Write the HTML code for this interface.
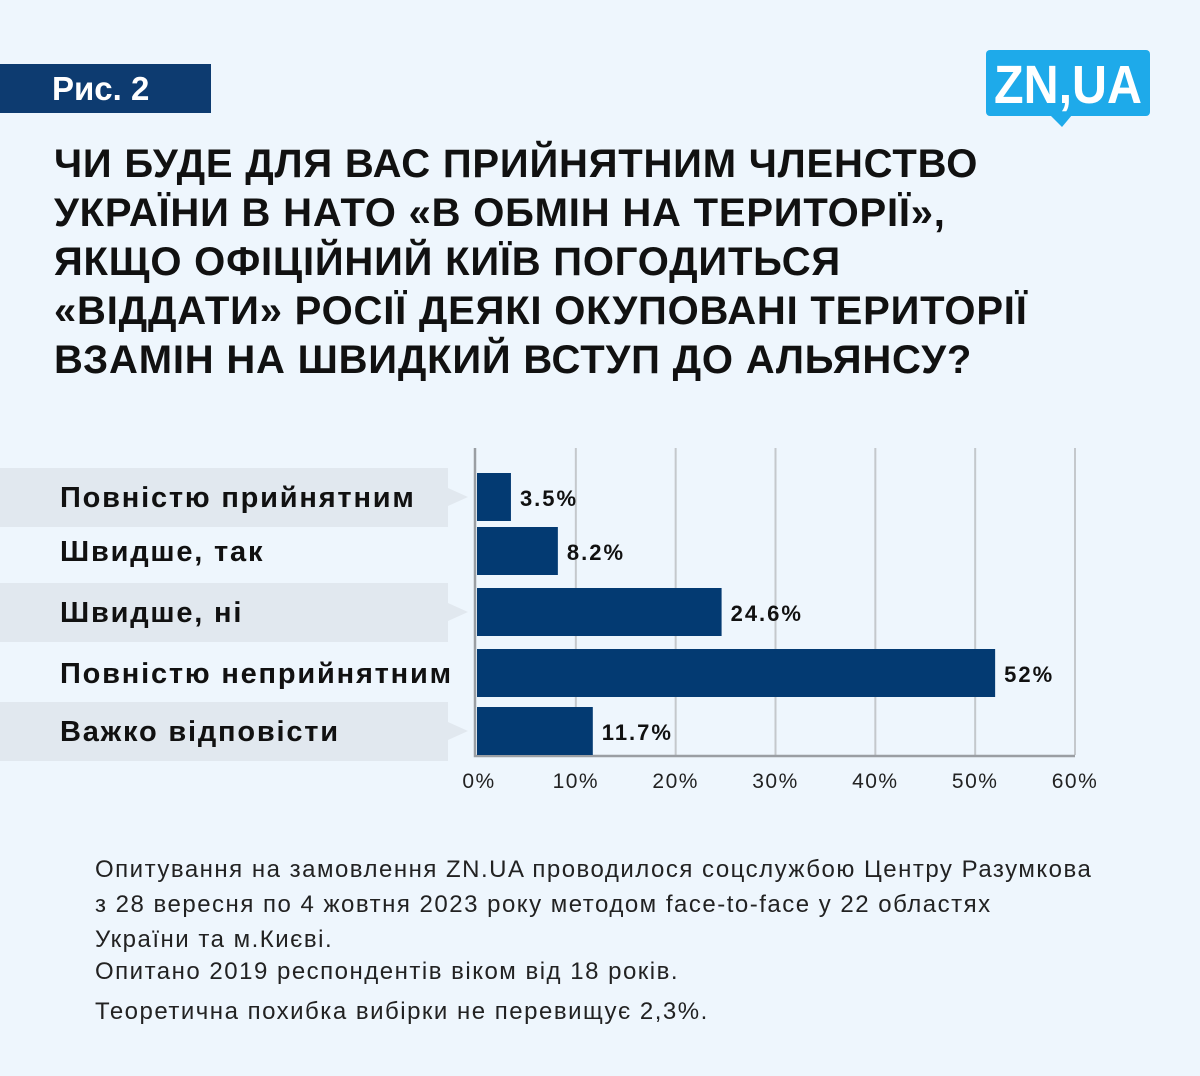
<!DOCTYPE html>
<html><head><meta charset="utf-8">
<style>
body{margin:0;width:1200px;height:1076px;background:#eef6fd;font-family:"Liberation Sans","DejaVu Sans",sans-serif;overflow:hidden;position:relative}
.fig{position:absolute;left:0;top:64px;width:211px;height:49px;background:#0d3b70;color:#fff;font-weight:bold;font-size:33px;line-height:49px;box-sizing:border-box;padding-left:52px}
.title{position:absolute;left:54px;top:140px;font-weight:bold;font-size:40px;line-height:49px;color:#111;letter-spacing:0.8px;white-space:nowrap}
.note{position:absolute;left:95px;font-size:24px;color:#222;letter-spacing:1.5px;white-space:nowrap}
</style></head><body>
<div class="fig">Рис. 2</div>
<svg style="position:absolute;left:980px;top:45px" width="180" height="90">
<rect x="6" y="5" width="164" height="66" rx="4" fill="#1eaaea"/>
<polygon points="70,70 92,70 82,82" fill="#1eaaea"/>
<text x="14" y="58" textLength="148" lengthAdjust="spacingAndGlyphs" font-family="Liberation Sans, sans-serif" font-weight="bold" font-size="54" fill="#fff">ZN,UA</text>
</svg>
<div class="title">ЧИ БУДЕ ДЛЯ ВАС ПРИЙНЯТНИМ ЧЛЕНСТВО<br>УКРАЇНИ В НАТО «В ОБМІН НА ТЕРИТОРІЇ»,<br>ЯКЩО ОФІЦІЙНИЙ КИЇВ ПОГОДИТЬСЯ<br>«ВІДДАТИ» РОСІЇ ДЕЯКІ ОКУПОВАНІ ТЕРИТОРІЇ<br>ВЗАМІН НА ШВИДКИЙ ВСТУП ДО АЛЬЯНСУ?</div>
<svg id="chart" style="position:absolute;left:0;top:0" width="1200" height="820"></svg>
<div class="note" style="top:852px;line-height:35px">Опитування на замовлення ZN.UA проводилося соцслужбою Центру Разумкова<br>з 28 вересня по 4 жовтня 2023 року методом face-to-face у 22 областях<br>України та м.Києві.</div>
<div class="note" style="top:958px">Опитано 2019 респондентів віком від 18 років.</div>
<div class="note" style="top:998px">Теоретична похибка вибірки не перевищує 2,3%.</div>
<script>
const categories=["Повністю прийнятним","Швидше, так","Швидше, ні","Повністю неприйнятним","Важко відповісти"];
const values=[3.5,8.2,24.6,52,11.7];
const valueLabels=["3.5%","8.2%","24.6%","52%","11.7%"];
const ticks=[0,10,20,30,40,50,60];
const tickLabels=["0%","10%","20%","30%","40%","50%","60%"];
const NS="http://www.w3.org/2000/svg";
const svg=document.getElementById('chart');
const x0=476,x1=1075,yTop=448,yBot=755,xMax=60;
const xs=v=>x0+(x1-x0)*v/xMax;
const rowTops=[473,527,588,649,707];
const barH=48;
function mk(t,a){const e=document.createElementNS(NS,t);for(const k in a)e.setAttribute(k,a[k]);svg.appendChild(e);return e;}
categories.forEach((c,i)=>{
 if(i%2===0){
  const b=mk('path',{d:`M0 ${rowTops[i]-5}H448V${rowTops[i]+15}L468 ${rowTops[i]+24}L448 ${rowTops[i]+33}V${rowTops[i]+54}H0Z`,fill:'#e1e8ef'});
  
  
 }
});
ticks.forEach((t,i)=>{
 if(i>0){const g=mk('line',{x1:xs(t),x2:xs(t),y1:yTop,y2:yBot,stroke:'#c4c8cc','stroke-width':2});
 
 }
 const l=mk('text',{x:xs(t)+(i===0?3:0),y:788,'text-anchor':'middle','font-size':21,'letter-spacing':1.5,fill:'#222'});
 l.textContent=tickLabels[i];
 
 
});
const ax=mk('path',{d:`M${x0-1} ${yTop}V${yBot+1}H${x1}`,stroke:'#9a9ea3','stroke-width':2.5,fill:'none'});


categories.forEach((c,i)=>{
 const y=rowTops[i];
 const r=mk('rect',{x:x0+1,y:y,width:xs(values[i])-x0-1,height:barH,fill:'#033a72'});
 
 
 const v=mk('text',{x:xs(values[i])+9,y:y+33,'font-size':22,'font-weight':'bold','letter-spacing':2,fill:'#111'});
 v.textContent=valueLabels[i];
 
 
 const l=mk('text',{x:60,y:y+34,'font-size':29,'font-weight':'bold','letter-spacing':1.8,fill:'#111'});
 l.textContent=c;
 
 
});
</script>
</body></html>
